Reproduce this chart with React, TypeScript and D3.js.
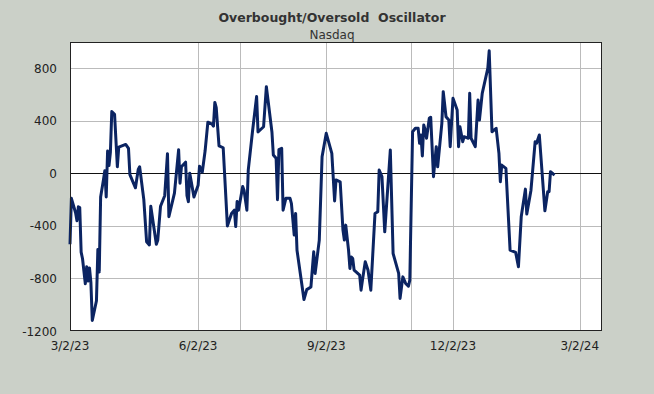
import * as d3 from 'd3';

// oscillator readings
const dates = [
  '2023-03-02', '2023-03-03', '2023-03-06', '2023-03-07', '2023-03-08', '2023-03-09', '2023-03-10', '2023-03-11',
  '2023-03-13', '2023-03-14', '2023-03-15', '2023-03-16', '2023-03-17', '2023-03-18', '2023-03-21', '2023-03-22',
  '2023-03-23', '2023-03-24', '2023-03-26', '2023-03-27', '2023-03-28', '2023-03-29', '2023-03-30', '2023-03-31',
  '2023-04-01', '2023-04-03', '2023-04-05', '2023-04-06', '2023-04-11', '2023-04-13', '2023-04-14', '2023-04-18',
  '2023-04-20', '2023-04-21', '2023-04-24', '2023-04-26', '2023-04-28', '2023-04-29', '2023-05-03', '2023-05-04',
  '2023-05-06', '2023-05-09', '2023-05-11', '2023-05-12', '2023-05-16', '2023-05-19', '2023-05-20', '2023-05-21',
  '2023-05-24', '2023-05-25', '2023-05-26', '2023-05-27', '2023-05-30', '2023-06-02', '2023-06-03', '2023-06-05',
  '2023-06-07', '2023-06-09', '2023-06-12', '2023-06-13', '2023-06-14', '2023-06-15', '2023-06-17', '2023-06-20',
  '2023-06-22', '2023-06-23', '2023-06-26', '2023-06-28', '2023-06-29', '2023-06-30', '2023-07-01', '2023-07-04',
  '2023-07-05', '2023-07-07', '2023-07-08', '2023-07-11', '2023-07-14', '2023-07-15', '2023-07-19', '2023-07-21',
  '2023-07-25', '2023-07-26', '2023-07-28', '2023-07-29', '2023-07-30', '2023-08-01', '2023-08-02', '2023-08-04',
  '2023-08-07', '2023-08-08', '2023-08-10', '2023-08-11', '2023-08-12', '2023-08-17', '2023-08-19', '2023-08-22',
  '2023-08-24', '2023-08-25', '2023-08-28', '2023-08-30', '2023-09-02', '2023-09-06', '2023-09-08', '2023-09-09',
  '2023-09-12', '2023-09-14', '2023-09-15', '2023-09-16', '2023-09-18', '2023-09-19', '2023-09-20', '2023-09-21',
  '2023-09-22', '2023-09-26', '2023-09-27', '2023-09-28', '2023-09-30', '2023-10-02', '2023-10-04', '2023-10-07',
  '2023-10-09', '2023-10-10', '2023-10-12', '2023-10-14', '2023-10-18', '2023-10-20', '2023-10-24', '2023-10-25',
  '2023-10-27', '2023-10-29', '2023-10-31', '2023-11-01', '2023-11-03', '2023-11-05', '2023-11-07', '2023-11-08',
  '2023-11-09', '2023-11-10', '2023-11-11', '2023-11-12', '2023-11-13', '2023-11-15', '2023-11-16', '2023-11-18',
  '2023-11-20', '2023-11-21', '2023-11-24', '2023-11-25', '2023-11-27', '2023-11-29', '2023-11-30', '2023-12-02',
  '2023-12-05', '2023-12-06', '2023-12-07', '2023-12-09', '2023-12-10', '2023-12-13', '2023-12-14', '2023-12-15',
  '2023-12-18', '2023-12-20', '2023-12-21', '2023-12-23', '2023-12-27', '2023-12-28', '2023-12-30', '2024-01-02',
  '2024-01-04', '2024-01-05', '2024-01-06', '2024-01-09', '2024-01-12', '2024-01-16', '2024-01-18', '2024-01-20',
  '2024-01-23', '2024-01-24', '2024-01-27', '2024-01-30', '2024-01-31', '2024-02-02', '2024-02-06', '2024-02-08',
  '2024-02-09', '2024-02-10', '2024-02-12', '2024-02-13',
];

const oscillator = [
  -540, -190, -300, -360, -255, -260, -600, -650,
  -840, -710, -820, -720, -830, -1120, -970, -580,
  -750, -180, -50, 20, -180, 170, 60, 160,
  470, 450, 50, 200, 220, 190, -10, -110,
  30, 50, -200, -520, -545, -250, -540, -510,
  -250, -170, 150, -330, -150, 180, -75, 50,
  85, -170, -215, 0, -180, -90, 55, 10,
  170, 390, 375, 360, 540, 500, 210, 195,
  -200, -400, -305, -280, -405, -215, -280, -100,
  -130, -280, 25, 315, 585, 315, 355, 660,
  315, 140, 115, -200, 180, 190, -280, -190,
  -190, -230, -470, -305, -585, -960, -885, -865,
  -597, -762, -508, 127, 305, 152, -210, -50,
  -64, -432, -508, -394, -584, -724, -636, -648,
  -737, -775, -889, -813, -673, -737, -889, -305,
  -292, 25, -25, -445, 177, -610, -762, -952,
  -788, -838, -859, -813, 317, 343, 343, 229,
  292, 132, 368, 330, 267, 419, 427, -25,
  203, 50, 381, 622, 431, 406, 203, 571,
  482, 203, 355, 241, 279, 267, 609, 267,
  203, 558, 406, 609, 800, 933, 317, 343,
  152, -64, 63, 38, -584, -602, -711, -331,
  -120, -310, -128, 241, 229, 292, -285, -140,
  -140, 12, -5, -13,
];

const yTicks = [-1200, -800, -400, 0, 400, 800];
const xLabelDates = ['2023-03-02', '2023-06-02', '2023-09-02', '2023-12-02', '2024-03-02'];
const xGridDates = ['2023-06-02', '2023-07-02', '2023-09-02', '2023-11-02', '2023-12-02', '2024-03-02'];

const W = 654;
const H = 394;
const margin = { top: 42, right: 52, bottom: 63, left: 70 };
const font = 'DejaVu Sans, Verdana, sans-serif';

const parse = d3.utcParse('%Y-%m-%d');
const fmt = d3.utcFormat('%-m/%-d/%y');

export default function App() {
  const data = dates.map((d, i) => ({ date: parse(d) as Date, value: oscillator[i] }));

  const x = d3.scaleUtc()
    .domain([parse('2023-03-02') as Date, parse('2024-03-18') as Date])
    .range([margin.left, W - margin.right]);
  const y = d3.scaleLinear()
    .domain([-1200, 1000])
    .range([H - margin.bottom, margin.top]);

  const line = d3.line<{ date: Date; value: number }>()
    .x(d => x(d.date))
    .y(d => y(d.value));

  const x0 = margin.left;
  const x1 = W - margin.right;
  const y0 = margin.top;
  const y1 = H - margin.bottom;

  return (
    <div style={{ position: 'fixed', left: 0, top: 0, width: W, height: H }}>
      <svg width={W} height={H} style={{ display: 'block' }}>
        <rect x={0} y={0} width={W} height={H} fill="#cbd0c8" />
        <text x={332} y={22} textAnchor="middle" fontFamily={font} fontSize={12.5} fontWeight="bold" fill="#333" style={{ whiteSpace: 'pre' }}>
          {'Overbought/Oversold  Oscillator'}
        </text>
        <text x={332} y={39} textAnchor="middle" fontFamily={font} fontSize={12} fill="#333">
          Nasdaq
        </text>
        <rect x={x0} y={y0} width={x1 - x0} height={y1 - y0} fill="#fff" />

        {yTicks.filter(t => t !== 0 && t !== -1200).map(t => (
          <line key={'gy' + t} x1={x0} x2={x1} y1={Math.round(y(t)) + 0.5} y2={Math.round(y(t)) + 0.5} stroke="#bbbbbb" />
        ))}
        {xGridDates.map(d => {
          const px = Math.round(x(parse(d) as Date)) + 0.5;
          return <line key={'gx' + d} x1={px} x2={px} y1={y0} y2={y1} stroke="#bbbbbb" />;
        })}
        <line x1={x0} x2={x1} y1={Math.round(y(0)) + 0.5} y2={Math.round(y(0)) + 0.5} stroke="#111" />

        <path d={line(data) ?? ''} fill="none" stroke="#0b2462" strokeWidth={3} strokeLinejoin="round" />

        <rect x={x0 + 0.5} y={y0 + 0.5} width={x1 - x0 - 1} height={y1 - y0 - 1} fill="none" stroke="#222" />

        {yTicks.map(t => (
          <text key={'ty' + t} x={57} y={y(t) + 4.5} textAnchor="end" fontFamily={font} fontSize={12} fill="#222">
            {t}
          </text>
        ))}
        {xLabelDates.map(d => (
          <text key={'tx' + d} x={x(parse(d) as Date)} y={350} textAnchor="middle" fontFamily={font} fontSize={12} fill="#222">
            {fmt(parse(d) as Date)}
          </text>
        ))}
      </svg>
    </div>
  );
}
